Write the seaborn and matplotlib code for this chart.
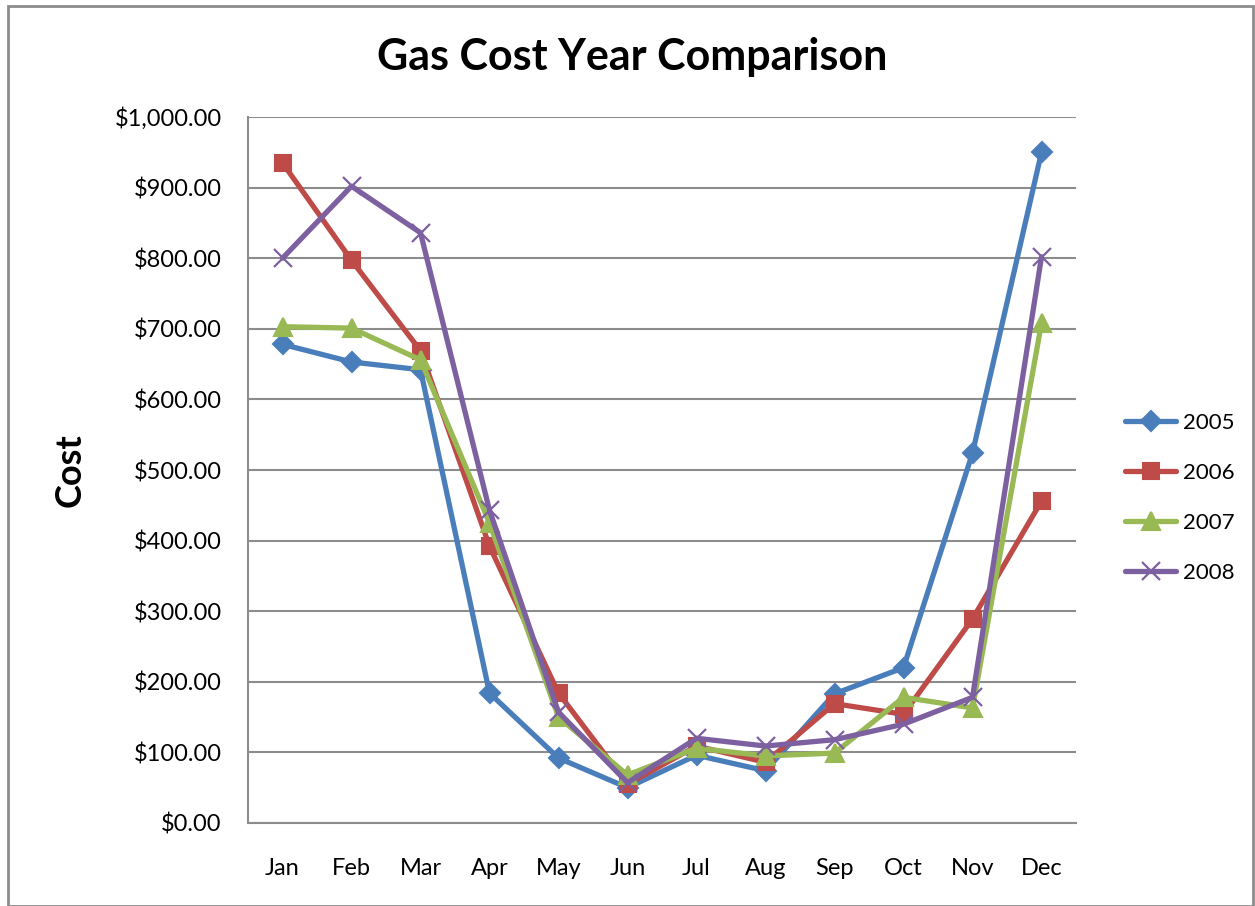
import matplotlib
matplotlib.use("Agg")
import matplotlib.pyplot as plt
import matplotlib.ticker as mticker
from matplotlib.patches import Rectangle
import seaborn as sns
import pandas as pd

months = ["Jan", "Feb", "Mar", "Apr", "May", "Jun", "Jul", "Aug", "Sep", "Oct", "Nov", "Dec"]
cost_2005 = [678, 653, 642, 184, 92, 50, 96, 74, 183, 220, 524, 950]
cost_2006 = [935, 797, 669, 392, 184, 55, 109, 86, 169, 154, 289, 456]
cost_2007 = [703, 701, 656, 425, 150, 68, 106, 95, 99, 178, 163, 708]
cost_2008 = [800, 902, 836, 443, 157, 57, 120, 109, 118, 140, 178, 802]
years = ["2005", "2006", "2007", "2008"]

colors = ["#4A7EBB", "#BE4B48", "#98B954", "#7D60A0"]
markers = ["D", "s", "^", "x"]
msizes = [10, 12, 13, 13]

rows = []
for yr, vals in zip(years, [cost_2005, cost_2006, cost_2007, cost_2008]):
    for i, (m, v) in enumerate(zip(months, vals)):
        rows.append({"Month": m, "idx": i, "Year": yr, "Cost": v})
df = pd.DataFrame(rows)

sns.set_style("white")
plt.rcParams["font.family"] = ["Lato", "DejaVu Sans"]
plt.rcParams["text.color"] = "black"

fig = plt.figure(figsize=(12.55, 9.06), dpi=100)
ax = fig.add_axes([248 / 1255, 1 - 823 / 906, (1076 - 248) / 1255, (823 - 117) / 906])

for yr, c, mk, ms in zip(years, colors, markers, msizes):
    sub = df[df["Year"] == yr]
    sns.lineplot(data=sub, x="idx", y="Cost", ax=ax, color=c, linewidth=3.8,
                 marker=mk, markersize=ms, markeredgecolor=c, markerfacecolor=c,
                 markeredgewidth=1.5 if mk != "x" else 1.6, label=yr, sort=False)

ax.set_xlim(-0.5, 11.5)
ax.set_ylim(0, 1000)
ax.set_xticks(range(12))
ax.set_xticklabels(months)
ax.yaxis.set_major_locator(mticker.MultipleLocator(100))
ax.yaxis.set_major_formatter(mticker.FuncFormatter(lambda v, p: f"${v:,.2f}"))
ax.tick_params(axis="both", labelsize=17, length=0, colors="black")
ax.tick_params(axis="x", pad=25)
ax.tick_params(axis="y", pad=19)
ax.grid(axis="y", color="#8C8C8C", linewidth=1.5)
ax.set_axisbelow(True)
for s in ["top", "right"]:
    ax.spines[s].set_visible(False)
for s in ["left", "bottom"]:
    ax.spines[s].set_color("#8C8C8C")
    ax.spines[s].set_linewidth(1.5)

ax.set_xlabel("")
ax.set_ylabel("Cost", fontsize=26, fontweight="bold", labelpad=20, color="black")
fig.text(632 / 1255, 1 - 57 / 906, "Gas Cost Year Comparison", ha="center", va="center",
         fontsize=31, fontweight="bold", color="black")

leg = ax.legend(loc="center left", bbox_to_anchor=(1.035, 0.46), frameon=False,
                fontsize=16, handlelength=2.3, labelspacing=1.35, handletextpad=0.3)
for t in leg.get_texts():
    t.set_color("black")

fig.patches.append(Rectangle((8 / 1255, 0), (1253 - 8) / 1255, 1 - 6 / 906,
                             transform=fig.transFigure, fill=False,
                             edgecolor="#8C8C8C", linewidth=2))

fig.savefig("out.png", dpi=100)
